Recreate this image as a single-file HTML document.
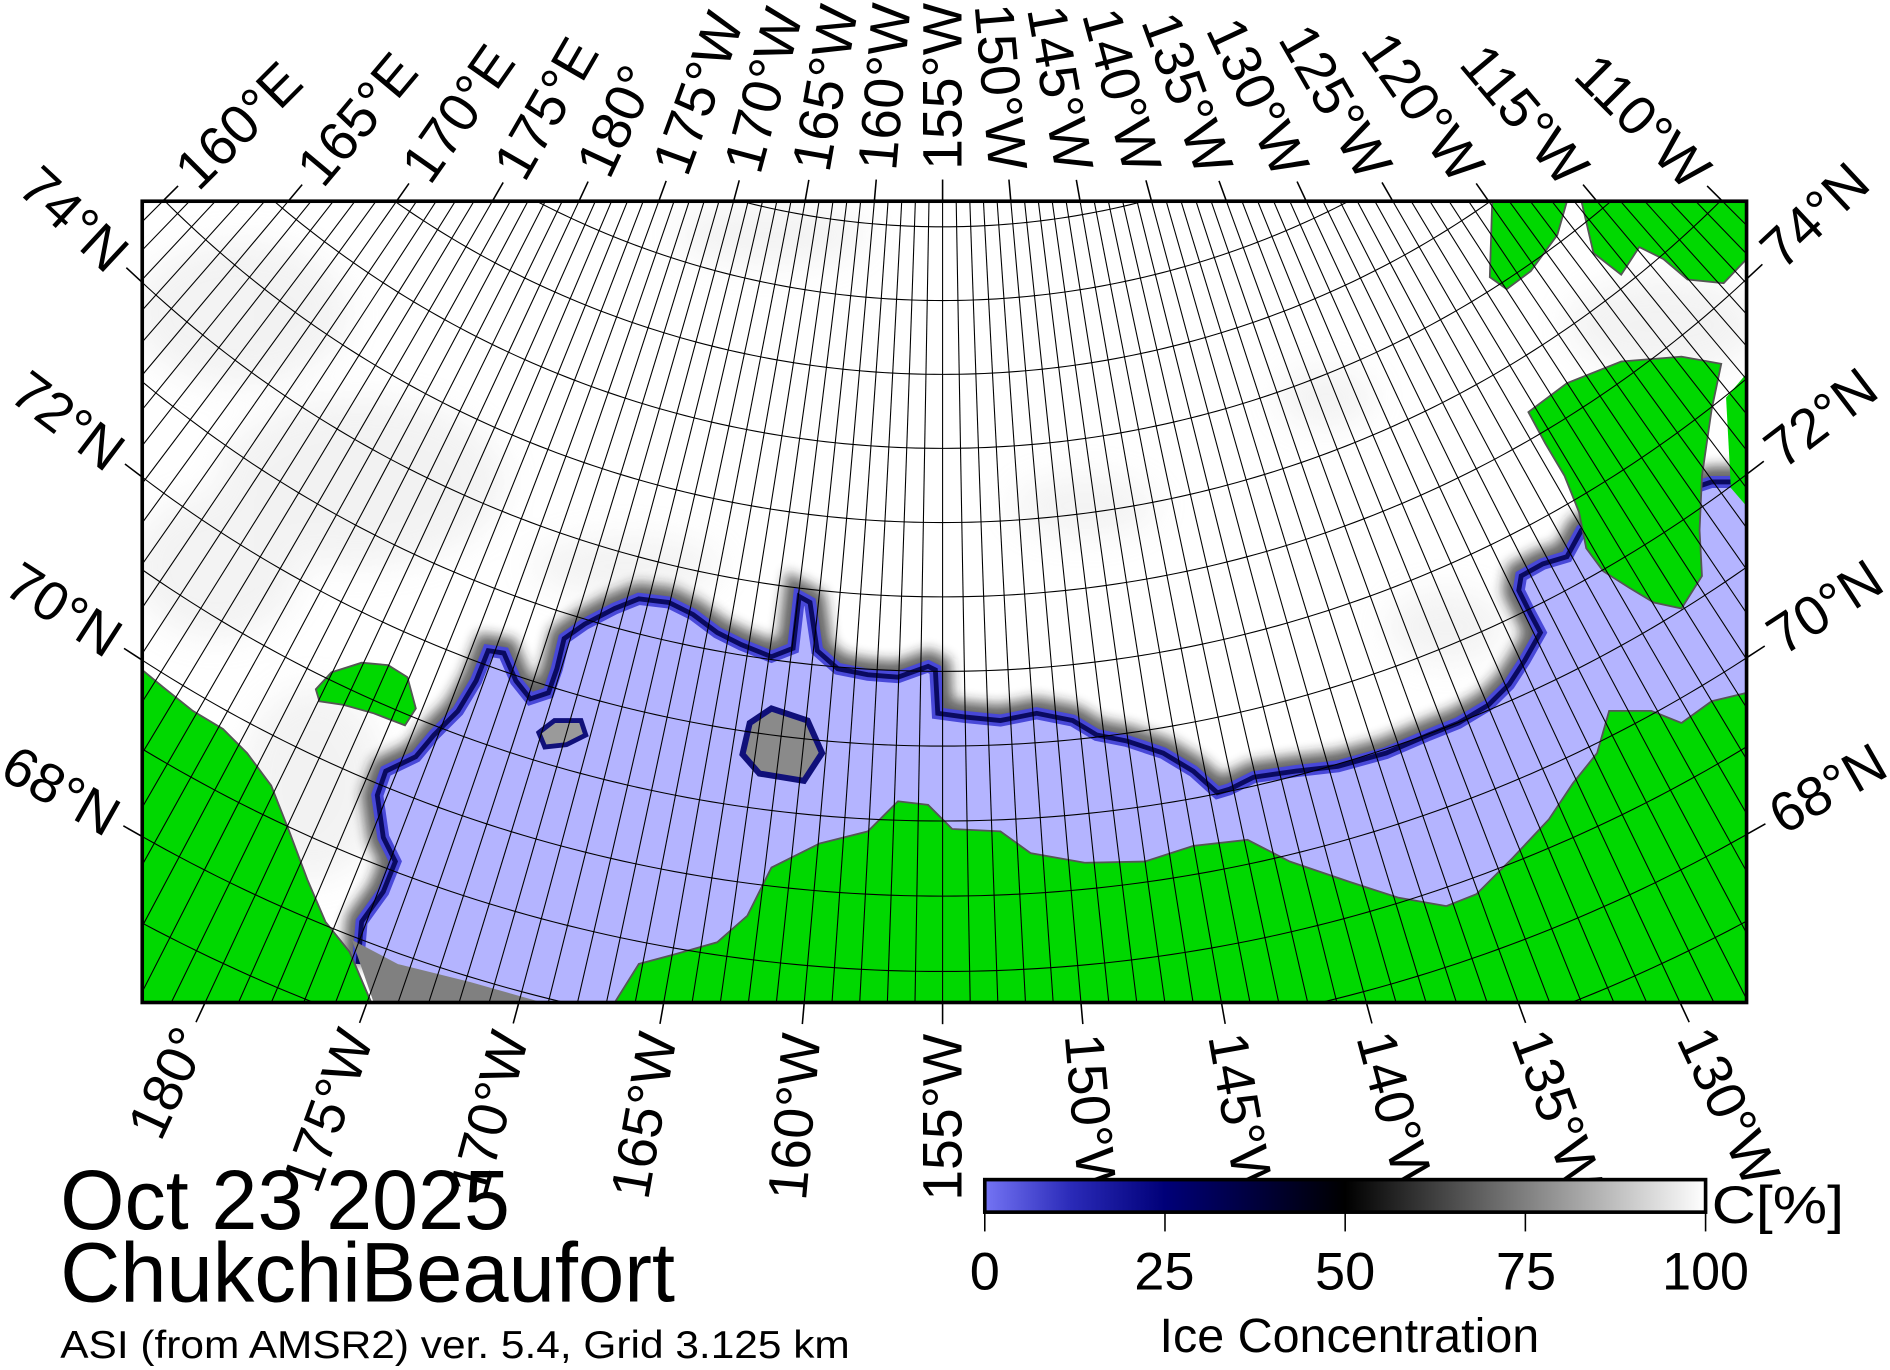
<!DOCTYPE html>
<html><head><meta charset="utf-8"><style>
html,body{margin:0;padding:0;background:#fff;overflow:hidden;width:1890px;height:1370px}
svg{display:block}
text{font-family:"Liberation Sans",Arial,sans-serif;fill:#000}
</style></head><body>
<svg id="s" xmlns="http://www.w3.org/2000/svg" width="1890" height="1370" viewBox="0 0 1568 1137" preserveAspectRatio="none">
<defs>
<clipPath id="fr"><rect x="118" y="167" width="1331" height="665"/></clipPath>
<filter id="bl" x="-20%" y="-20%" width="140%" height="140%"><feGaussianBlur stdDeviation="5"/></filter>
<filter id="bl2" x="-50%" y="-50%" width="200%" height="200%"><feGaussianBlur stdDeviation="14"/></filter>
<linearGradient id="cb" x1="0" x2="1" y1="0" y2="0">
<stop offset="0" stop-color="#7474f4"/><stop offset="0.12" stop-color="#2a2ab8"/><stop offset="0.25" stop-color="#000078"/><stop offset="0.5" stop-color="#000"/><stop offset="1" stop-color="#fff"/>
</linearGradient>
</defs>
<rect width="1568" height="1137" fill="#fff"/>
<g clip-path="url(#fr)">
<rect x="118" y="167" width="1331" height="665" fill="#fff"/>
<g filter="url(#bl2)" fill="#c8c8c8" opacity="0.22">
<ellipse cx="200" cy="260" rx="90" ry="60"/><ellipse cx="300" cy="400" rx="120" ry="70"/><ellipse cx="180" cy="470" rx="70" ry="60"/>
<ellipse cx="260" cy="650" rx="60" ry="80"/><ellipse cx="520" cy="470" rx="80" ry="25"/><ellipse cx="640" cy="195" rx="80" ry="25"/>
<ellipse cx="1380" cy="270" rx="80" ry="40"/><ellipse cx="1100" cy="330" rx="40" ry="25"/><ellipse cx="900" cy="420" rx="60" ry="25"/>
<ellipse cx="1200" cy="520" rx="50" ry="30"/>
</g>
<polyline id="edgeShadow" fill="none" stroke="#222" stroke-width="26" opacity="0.7" filter="url(#bl)"/>
<polygon id="water" fill="#b4b4ff"/>
<polyline id="edgeBlue" fill="none" stroke="#4848d8" stroke-width="10"/>
<polyline id="edgeNavy" fill="none" stroke="#0a0a60" stroke-width="4"/>
<polygon points="292,780 310,832 450,832 390,815 330,800" fill="#808080"/>
<polygon points="622,600 640,588 670,598 682,625 667,648 630,642 616,626" fill="#8a8a8a" stroke="#10107a" stroke-width="5"/>
<polygon points="447,608 460,598 482,598 486,610 470,618 452,620" fill="#9a9a9a" stroke="#10107a" stroke-width="4"/>
<polygon fill="#00d800" stroke="#555" stroke-width="1.5" points="118,556 135,570 160,590 185,605 205,625 225,652 240,690 255,730 270,765 290,790 308,832 118,832"/>
<polygon id="alaska" fill="#00d800" stroke="#555" stroke-width="1.5"/>
<polygon fill="#00d800" stroke="#555" stroke-width="1.5" points="262,572 275,558 300,550 322,552 338,562 345,588 336,602 310,592 285,585 265,582"/>
<polygon fill="#00d800" stroke="#555" stroke-width="1.5" points="1268,342 1300,318 1345,300 1395,296 1428,302 1420,340 1412,395 1410,440 1412,478 1395,505 1372,500 1352,488 1330,474 1316,455 1310,425 1298,395 1282,368"/>
<polygon fill="#00d800" points="1432,330 1449,310 1449,420 1436,405"/>
<polygon fill="#00d800" stroke="#555" stroke-width="1.5" points="1238,167 1300,167 1292,195 1270,225 1250,240 1236,230"/>
<polygon fill="#00d800" stroke="#555" stroke-width="1.5" points="1312,167 1449,167 1449,215 1430,235 1400,232 1380,215 1360,205 1345,228 1322,210"/>
<g id="grid" fill="none" stroke="#000" stroke-width="0.9"></g>
</g>
<rect x="118" y="167" width="1331" height="665" fill="none" stroke="#000" stroke-width="3"/>
<g id="ticks" stroke="#000" stroke-width="1.3"></g>
<g id="labels" font-size="46"></g>
<text x="50" y="1020" font-size="70" textLength="373" lengthAdjust="spacingAndGlyphs">Oct 23 2025</text>
<text x="50" y="1080" font-size="70" textLength="510" lengthAdjust="spacingAndGlyphs">ChukchiBeaufort</text>
<text x="50" y="1127" font-size="32" textLength="655" lengthAdjust="spacingAndGlyphs">ASI (from AMSR2) ver. 5.4,  Grid 3.125 km</text>
<rect x="817" y="979" width="598" height="27" fill="url(#cb)" stroke="#000" stroke-width="3"/>
<g stroke="#000" stroke-width="1.3"><line x1="817" y1="1006" x2="817" y2="1022"/><line x1="966.5" y1="1006" x2="966.5" y2="1022"/><line x1="1116" y1="1006" x2="1116" y2="1022"/><line x1="1265.5" y1="1006" x2="1265.5" y2="1022"/><line x1="1415" y1="1006" x2="1415" y2="1022"/></g>
<g font-size="44" text-anchor="middle">
<text x="817" y="1070" textLength="25" lengthAdjust="spacingAndGlyphs">0</text>
<text x="966" y="1070" textLength="50" lengthAdjust="spacingAndGlyphs">25</text>
<text x="1116" y="1070" textLength="50" lengthAdjust="spacingAndGlyphs">50</text>
<text x="1266" y="1070" textLength="50" lengthAdjust="spacingAndGlyphs">75</text>
<text x="1415" y="1070" textLength="72" lengthAdjust="spacingAndGlyphs">100</text>
</g>
<text x="1420" y="1015" font-size="44" textLength="110" lengthAdjust="spacingAndGlyphs">C[%]</text>
<text x="962" y="1122" font-size="40" textLength="315" lengthAdjust="spacingAndGlyphs">Ice Concentration</text>
</svg>
<script>
(function(){
var NS="http://www.w3.org/2000/svg";
var E=[[297,800],[300,765],[318,740],[328,715],[318,695],[313,660],[320,640],[345,628],[360,610],[380,590],[395,565],[405,540],[418,542],[428,565],[440,580],[455,575],[462,555],[468,530],[485,518],[510,505],[530,497],[555,500],[575,510],[595,525],[615,535],[640,545],[658,538],[663,495],[672,500],[678,540],[695,555],[720,560],[745,562],[770,553],[776,556],[778,592],[800,595],[830,598],[860,592],[890,598],[910,610],[935,615],[965,625],[990,640],[1010,658],[1020,655],[1040,645],[1075,640],[1110,636],[1150,625],[1185,610],[1210,600],[1235,585],[1252,568],[1265,548],[1278,525],[1270,510],[1260,490],[1262,478],[1280,468],[1300,462],[1312,440],[1330,430],[1420,400],[1449,400]];
var C=[[1449,575],[1420,582],[1395,600],[1370,590],[1335,590],[1325,625],[1305,650],[1285,680],[1255,712],[1225,742],[1200,752],[1160,745],[1120,732],[1070,715],[1035,697],[990,702],[950,715],[900,716],[855,708],[830,690],[790,688],[770,668],[745,665],[720,690],[680,700],[640,720],[620,760],[595,782],[560,792],[530,800],[510,832]];
function s(a){return a.map(function(p){return p[0]+","+p[1]}).join(" ");}
var es=s(E);
["edgeShadow","edgeBlue","edgeNavy"].forEach(function(id){document.getElementById(id).setAttribute("points",es);});
var W=E.concat([[1449,575]]).concat(C).concat([[430,832],[330,800]]);
document.getElementById("water").setAttribute("points",s(W));
document.getElementById("alaska").setAttribute("points",s(C.concat([[1449,832]])));
var PX=782,PY=-480,K=6940,D=Math.PI/180;
function rr(lat){return K*Math.tan((90-lat)/2*D);}
function pt(lat,lon){var r=rr(lat),t=(lon+155)*D;return [PX+r*Math.sin(t),PY+r*Math.cos(t)];}
var g=document.getElementById("grid");
function el(p,tag,at){var e=document.createElementNS(NS,tag);for(var k in at)e.setAttribute(k,at[k]);p.appendChild(e);return e;}
for(var lon=-220;lon<=-90;lon++){var a=pt(60,lon),b=pt(89,lon);el(g,"line",{x1:a[0],y1:a[1],x2:b[0],y2:b[1]});}
for(var lat=60;lat<=88;lat++){var pts=[];for(var l=-225;l<=-85;l+=0.5)pts.push(pt(lat,l));el(g,"polyline",{points:s(pts)});}
var tk=document.getElementById("ticks"),lb=document.getElementById("labels");
function label(x,y,dx,dy,txt){
 var ang=Math.atan2(dy,dx)/D, anchor="start";
 if(!(ang>=-90.0001&&ang<89.999)){ang=ang>0?ang-180:ang+180;anchor="end";}
 var off=26;var lx=x+dx*off,ly=y+dy*off;
 var t=el(lb,"text",{x:lx,y:ly,"text-anchor":anchor,"dominant-baseline":"central",transform:"rotate("+ang+" "+lx+" "+ly+")"});
 t.textContent=txt;
}
function lname(lon){if(lon==-180)return "180\u00b0";if(lon<-180)return (360+lon)+"\u00b0E";return (-lon)+"\u00b0W";}
for(var lon=-200;lon<=-110;lon+=5){var t=(lon+155)*D;var r=(167-PY)/Math.cos(t);var x=PX+r*Math.sin(t),y=167;
 var dx=PX-x,dy=PY-y,n=Math.hypot(dx,dy);dx/=n;dy/=n;
 el(tk,"line",{x1:x,y1:y,x2:x+dx*18,y2:y+dy*18});label(x,y,dx,dy,lname(lon));}
for(var lon=-180;lon<=-130;lon+=5){var t=(lon+155)*D;var r=(832-PY)/Math.cos(t);var x=PX+r*Math.sin(t),y=832;
 var dx=x-PX,dy=y-PY,n=Math.hypot(dx,dy);dx/=n;dy/=n;
 el(tk,"line",{x1:x,y1:y,x2:x+dx*18,y2:y+dy*18});label(x,y,dx,dy,lname(lon));}
[68,70,72,74].forEach(function(lat){var r=rr(lat);
 [118,1449].forEach(function(x){var sx=x-PX;var y=PY+Math.sqrt(r*r-sx*sx);
  var ux=sx/r,uy=(y-PY)/r;var tx=uy,ty=-ux; if(x<700){tx=-tx;ty=-ty;}
  el(tk,"line",{x1:x,y1:y,x2:x+tx*18,y2:y+ty*18});label(x,y,tx,ty,lat+"\u00b0N");});});
})();
</script>
</body></html>
